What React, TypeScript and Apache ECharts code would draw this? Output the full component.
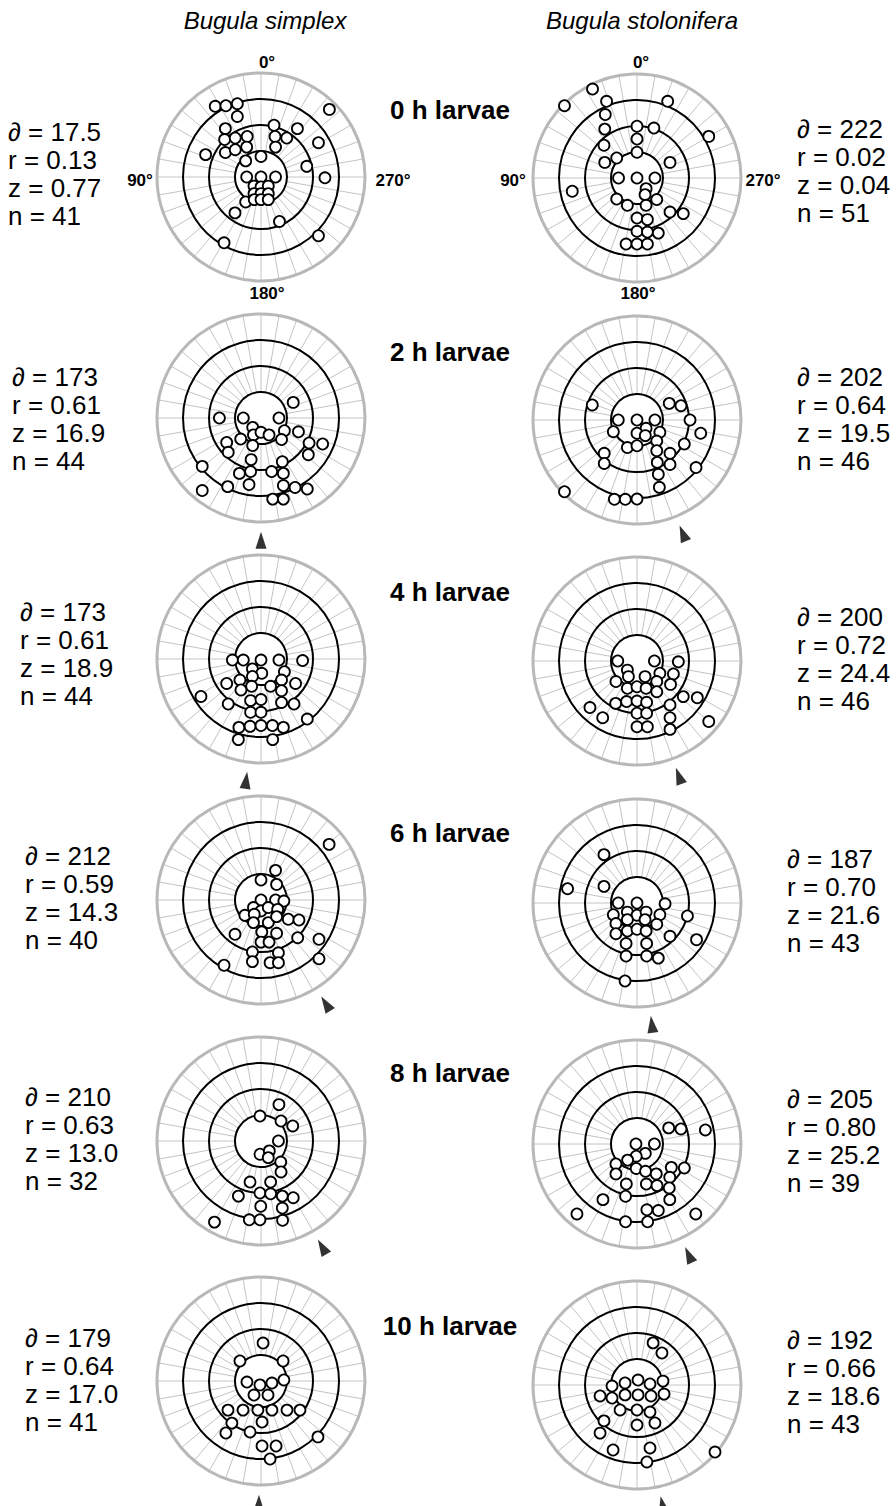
import React, { useEffect, useRef } from "react";
import * as echarts from "echarts";

// ---------- DATA ----------
const speciesTitles = ["Bugula simplex", "Bugula stolonifera"];
const stageLabels = ["0 h larvae", "2 h larvae", "4 h larvae", "6 h larvae", "8 h larvae", "10 h larvae"];
const degreeLabels = ["0°", "90°", "180°", "270°"];

// [mean angle, r, z, n]
const simplexStats = [
  ["17.5", "0.13", "0.77", "41"],
  ["173", "0.61", "16.9", "44"],
  ["173", "0.61", "18.9", "44"],
  ["212", "0.59", "14.3", "40"],
  ["210", "0.63", "13.0", "32"],
  ["179", "0.64", "17.0", "41"],
];
const stoloniferaStats = [
  ["222", "0.02", "0.04", "51"],
  ["202", "0.64", "19.5", "46"],
  ["200", "0.72", "24.4", "46"],
  ["187", "0.70", "21.6", "43"],
  ["205", "0.80", "25.2", "39"],
  ["192", "0.66", "18.6", "43"],
];

// mean direction arrows (degrees, counter-clockwise from 0° at top); null = no arrow
const simplexArrows = [null, 180, 173, 212, 210, 179];
const stoloniferaArrows = [null, 202, 200, 187, 205, 192];

// larva positions [x, y] in dish units (rings at 10, 20, 30; rim at 40)
const simplex0h = [[-17.6,27.2],[-13.5,27.4],[-9.1,28.2],[-9.1,23.3],[26.3,26.0],[-13.7,18.6],[5.0,19.9],[14.0,18.6],[-14.0,14.4],[-9.9,15.0],[-5.3,15.6],[5.4,15.6],[9.9,15.0],[22.1,13.2],[-5.5,11.5],[5.6,11.5],[-21.3,8.6],[-13.7,9.4],[-9.9,10.5],[0,7.9],[-5.9,6.2],[17.6,4.1],[-5.5,0],[0,0],[5.6,0],[24.6,-0.3],[-2.7,-3.5],[0,-3.8],[2.8,-3.5],[-2.7,-6.4],[0,-6.4],[2.8,-6.4],[-5.9,-9.6],[-2.6,-8.7],[0,-8.7],[2.8,-8.7],[-10.0,-13.8],[7.1,-17.1],[22.1,-22.6],[-14.2,-25.3]];
const stolonifera0h = [[-17.1,34.2],[-27.9,27.8],[-11.7,29.5],[11.8,29.5],[-12.2,24.4],[27.6,16.0],[-12.4,18.8],[0,19.9],[6.5,19.2],[0,15.0],[-12.7,12.6],[0,9.9],[-7.8,7.7],[-12.4,6.0],[12.7,6.0],[-7.1,0],[0,0],[6.9,0],[3.5,-4.1],[3.1,-6.4],[-24.9,-5.1],[-7.8,-8.1],[-3.7,-10.5],[3.5,-10.5],[7.6,-8.3],[12.7,-13.1],[17.8,-13.7],[0,-15.4],[4.0,-16.0],[0,-20.5],[4.0,-20.8],[8.2,-21.2],[-4.2,-25.4],[0,-25.4],[4.0,-25.4]];
const simplex2h = [[12.4,6.0],[-16.0,0],[-6.8,0],[6.9,0],[-3.2,-3.6],[-2.9,-6.5],[0,-5.5],[3.1,-6.5],[9.0,-4.9],[14.4,-5.3],[-7.8,-8.1],[-13.2,-9.4],[7.9,-8.3],[-3.2,-10.6],[18.5,-9.6],[23.7,-10.0],[-12.6,-13.2],[18.2,-14.1],[-3.8,-16.0],[8.2,-16.8],[-22.6,-18.6],[-8.3,-21.3],[-4.0,-20.6],[4.1,-20.6],[8.6,-21.3],[-12.8,-26.4],[-4.6,-25.6],[8.6,-26.0],[13.1,-26.7],[17.8,-27.3],[-22.6,-27.9],[4.5,-31.2],[8.6,-31.2]];
const stolonifera2h = [[-17.2,5.8],[12.4,6.4],[16.9,5.5],[-7.2,0],[0,0],[6.9,0],[20.4,0],[3.5,-3.2],[-9.1,-4.5],[0,-5.1],[3.2,-6.0],[8.8,-4.7],[24.5,-5.1],[7.6,-8.1],[18.2,-9.2],[-3.7,-10.6],[0,-9.9],[7.6,-11.8],[12.7,-12.8],[-12.6,-12.8],[-12.6,-16.7],[7.8,-16.3],[12.7,-17.1],[22.7,-18.3],[8.2,-20.9],[8.6,-25.9],[-27.9,-27.6],[-8.7,-30.5],[-4.5,-30.5],[0,-30.4]];
const simplex4h = [[-11.0,-0.4],[-6.8,-0.4],[0,-0.4],[6.9,-0.4],[16.0,-0.6],[-3.3,-3.8],[0.3,-5.5],[-3.3,-6.7],[9.0,-4.9],[-8.1,-8.1],[7.9,-8.1],[-13.2,-9.4],[13.3,-9.4],[-3.6,-10.5],[3.7,-10.5],[-7.7,-11.9],[7.9,-12.2],[-23.1,-14.4],[-4.0,-16.0],[0,-15.6],[7.9,-16.7],[12.7,-17.3],[-12.6,-17.3],[-4.0,-20.5],[0,-20.5],[17.8,-23.1],[-8.5,-26.3],[-4.2,-25.9],[0,-25.6],[4.4,-25.6],[8.6,-26.3],[-8.7,-31.0],[4.5,-31.0]];
const stolonifera4h = [[-7.4,0],[6.7,0],[15.9,-0.3],[-3.7,-3.5],[-3.3,-6.0],[3.1,-6.0],[8.8,-4.7],[14.0,-5.0],[-8.1,-7.9],[7.6,-7.9],[12.9,-9.0],[-3.7,-10.5],[0,-9.9],[3.5,-10.5],[7.6,-11.8],[17.8,-13.7],[23.2,-14.1],[-8.2,-16.3],[-4.0,-15.6],[0,-15.4],[3.7,-15.9],[12.7,-16.9],[-18.1,-17.9],[-13.2,-21.8],[0,-20.1],[3.7,-20.1],[12.7,-21.8],[27.6,-23.3],[0,-25.3],[4.0,-25.3],[12.7,-26.3]];
const simplex6h = [[26.2,21.4],[5.6,11.4],[0,7.7],[6.0,6.0],[0,0],[5.6,0],[8.8,-0.4],[-2.9,-2.9],[0,-4.2],[2.8,-2.9],[6.4,-3.6],[-6.2,-5.9],[-2.6,-5.5],[-2.9,-8.7],[2.8,-8.7],[6.0,-6.4],[10.5,-7.4],[14.6,-7.7],[0.3,-12.3],[6.0,-12.8],[-10.0,-13.2],[14.1,-14.5],[22.3,-15.1],[0,-16.2],[3.1,-16.2],[-3.3,-20.0],[6.7,-20.3],[-3.3,-23.7],[3.5,-24.1],[6.7,-24.1],[22.3,-22.6],[-14.2,-25.1]];
const stolonifera6h = [[-12.7,18.6],[-26.7,5.5],[-12.7,6.4],[-7.2,0],[0,0],[10.8,-0.3],[-3.7,-3.5],[0,-4.7],[3.5,-3.5],[-9.1,-4.5],[-3.7,-6.4],[3.1,-6.4],[8.8,-4.5],[19.4,-5.0],[-8.1,-7.9],[7.6,-8.2],[-3.7,-10.8],[0,-10.1],[3.5,-10.8],[-8.1,-11.8],[12.7,-12.8],[22.9,-14.1],[-4.2,-15.6],[3.7,-15.6],[-4.2,-20.4],[3.7,-20.4],[8.2,-21.2],[-4.6,-30.0]];
const simplex8h = [[6.9,14.0],[-0.4,9.6],[7.7,7.7],[12.2,5.8],[6.7,0],[-0.4,-5.1],[3.2,-3.8],[2.8,-6.4],[7.6,-8.1],[7.7,-11.9],[-4.2,-15.8],[3.7,-15.8],[-8.7,-21.2],[-0.4,-20.0],[3.7,-20.3],[8.2,-21.2],[12.4,-21.8],[-0.1,-25.1],[8.2,-25.8],[-4.5,-30.3],[-0.4,-30.3],[8.3,-30.5],[-17.9,-31.2]];
const stolonifera8h = [[12.2,6.2],[16.9,5.8],[26.3,5.4],[-0.4,0],[6.7,0],[3.2,-3.6],[-0.3,-4.7],[-3.6,-6.2],[-8.1,-7.7],[-0.3,-9.4],[3.3,-10.5],[7.4,-11.5],[13.2,-9.0],[18.2,-9.2],[-8.1,-11.5],[12.6,-12.8],[-4.1,-15.4],[3.6,-15.4],[7.7,-16.0],[12.4,-16.9],[-4.4,-20.1],[-13.1,-21.4],[12.6,-21.4],[3.8,-25.3],[8.2,-25.6],[-23.1,-26.9],[22.6,-26.9],[-4.4,-29.9],[4.1,-29.9]];
const simplex10h = [[0.8,14.6],[-8.1,7.7],[8.5,7.7],[-5.4,-0.4],[-0.4,-1.5],[4.2,-0.8],[8.8,0.4],[-2.7,-5.4],[2.7,-5.4],[-12.7,-11.2],[-6.9,-11.2],[-1.2,-11.2],[4.2,-11.2],[10.0,-11.2],[15.0,-11.2],[-11.2,-16.2],[0.4,-15.8],[-13.5,-20.0],[-4.2,-19.6],[0.4,-25.0],[5.8,-25.0],[3.5,-30.0],[21.9,-21.5]];
const stolonifera10h = [[6.2,16.2],[9.6,12.3],[-9.6,-0.4],[-4.6,0.8],[0.4,1.9],[5.0,0.4],[10.0,1.5],[-14.2,-4.2],[-9.6,-5.0],[-4.6,-3.8],[0.4,-3.8],[5.4,-4.2],[10.4,-3.5],[-6.5,-9.6],[0,-9.6],[5.0,-10.4],[-12.7,-13.8],[0,-15.4],[6.9,-14.6],[-9.2,-25.0],[5.0,-24.2],[30.0,-25.8],[3.8,-29.6],[-14.2,-18.5]];

const simplexPoints = [simplex0h, simplex2h, simplex4h, simplex6h, simplex8h, simplex10h];
const stoloniferaPoints = [stolonifera0h, stolonifera2h, stolonifera4h, stolonifera6h, stolonifera8h, stolonifera10h];

// ---------- LAYOUT ----------
const W = 896;
const H = 1506;
const R = 104; // rim radius in px
const RMAX = 40; // rim in data units
const ARROW_R = 47;
const leftCx = 261;
const rightCx = 637;
const leftCy = [177, 418, 659, 900, 1141, 1381];
const rightCy = [178, 420, 661, 903, 1144, 1385];
const leftStatX = [8, 12, 20, 25, 25, 25];
const rightStatX = [797, 797, 797, 787, 787, 787];
const leftStatY = [118, 363, 598, 842, 1083, 1324];
const rightStatY = [115, 363, 603, 845, 1085, 1326];
const stageY = [110, 352, 592, 833, 1073, 1326];

const FONT = '"Liberation Sans", Arial, Helvetica, sans-serif';

function buildOption() {
  const plots: { pts: number[][]; arrow: number | null; cx: number; cy: number }[] = [];
  for (let i = 0; i < 6; i++) {
    plots.push({ pts: simplexPoints[i], arrow: simplexArrows[i], cx: leftCx, cy: leftCy[i] });
    plots.push({ pts: stoloniferaPoints[i], arrow: stoloniferaArrows[i], cx: rightCx, cy: rightCy[i] });
  }

  const polar = plots.map((p) => ({ center: [p.cx, p.cy], radius: R }));
  const angleAxis = plots.map((_, i) => ({
    polarIndex: i,
    type: "value",
    min: 0,
    max: 360,
    interval: 10,
    startAngle: 90,
    clockwise: false,
    z: 1,
    axisLine: { show: true, lineStyle: { color: "#b8b8b8", width: 3 } },
    axisTick: { show: true, inside: true, length: R * 0.75, lineStyle: { color: "#c4c4c4", width: 1 } },
    axisLabel: { show: false },
    splitLine: { show: false },
    splitArea: { show: false },
  }));
  const radiusAxis = plots.map((_, i) => ({
    polarIndex: i,
    type: "value",
    min: 0,
    max: RMAX,
    interval: 10,
    z: 3,
    axisLine: { show: false },
    axisTick: { show: false },
    axisLabel: { show: false },
    splitLine: {
      show: true,
      lineStyle: { type: "solid", color: ["rgba(0,0,0,0)", "#000", "#000", "#000", "rgba(0,0,0,0)"], width: 2 },
    },
  }));
  const grid = plots.map((p) => ({ left: p.cx - R, top: p.cy - R, width: 2 * R, height: 2 * R }));
  const xAxis = plots.map((_, i) => ({ gridIndex: i, type: "value", min: -RMAX, max: RMAX, show: false }));
  const yAxis = plots.map((_, i) => ({ gridIndex: i, type: "value", min: -RMAX, max: RMAX, show: false }));

  const series: any[] = [];
  plots.forEach((p, i) => {
    series.push({
      type: "scatter",
      xAxisIndex: i,
      yAxisIndex: i,
      clip: false,
      symbol: "circle",
      symbolSize: 11,
      itemStyle: { color: "#fff", borderColor: "#000", borderWidth: 1.8, opacity: 1 },
      data: p.pts,
      z: 5,
    });
    if (p.arrow !== null) {
      series.push({
        type: "scatter",
        coordinateSystem: "polar",
        polarIndex: i,
        clip: false,
        symbol: "triangle",
        symbolSize: [11, 17],
        symbolRotate: p.arrow + 180,
        itemStyle: { color: "#000" },
        data: [[ARROW_R, p.arrow]],
        z: 6,
      });
    }
  });

  const graphic: any[] = [];
  const txt = (x: number, y: number, text: string, font: string, align = "center", valign = "middle", lineHeight?: number) => ({
    type: "text",
    x,
    y,
    silent: true,
    style: { text, font, textAlign: align, textVerticalAlign: valign, fill: "#000", lineHeight },
  });

  graphic.push(txt(265, 20, speciesTitles[0], `italic 24px ${FONT}`));
  graphic.push(txt(642, 20, speciesTitles[1], `italic 24px ${FONT}`));
  stageLabels.forEach((s, i) => graphic.push(txt(450, stageY[i], s, `bold 26px ${FONT}`)));

  const statText = (s: string[]) => `∂ = ${s[0]}\nr = ${s[1]}\nz = ${s[2]}\nn = ${s[3]}`;
  for (let i = 0; i < 6; i++) {
    graphic.push(txt(leftStatX[i], leftStatY[i], statText(simplexStats[i]), `26px ${FONT}`, "left", "top", 28));
    graphic.push(txt(rightStatX[i], rightStatY[i], statText(stoloniferaStats[i]), `26px ${FONT}`, "left", "top", 28));
  }

  const degFont = `bold 17px ${FONT}`;
  // left plot degree labels
  graphic.push(txt(267, 62, degreeLabels[0], degFont));
  graphic.push(txt(140, 180, degreeLabels[1], degFont));
  graphic.push(txt(267, 293, degreeLabels[2], degFont));
  graphic.push(txt(393, 180, degreeLabels[3], degFont));
  // right plot degree labels
  graphic.push(txt(641, 62, degreeLabels[0], degFont));
  graphic.push(txt(513, 180, degreeLabels[1], degFont));
  graphic.push(txt(638, 293, degreeLabels[2], degFont));
  graphic.push(txt(763, 180, degreeLabels[3], degFont));

  return {
    animation: false,
    backgroundColor: "#fff",
    polar,
    angleAxis,
    radiusAxis,
    grid,
    xAxis,
    yAxis,
    series,
    graphic,
  };
}

export default function App() {
  const ref = useRef<HTMLDivElement>(null);
  useEffect(() => {
    if (!ref.current) return;
    const chart = echarts.init(ref.current, undefined, { renderer: "svg" });
    chart.setOption(buildOption() as any);
    return () => chart.dispose();
  }, []);
  return <div ref={ref} style={{ position: "absolute", left: 0, top: 0, width: W, height: H }} />;
}
